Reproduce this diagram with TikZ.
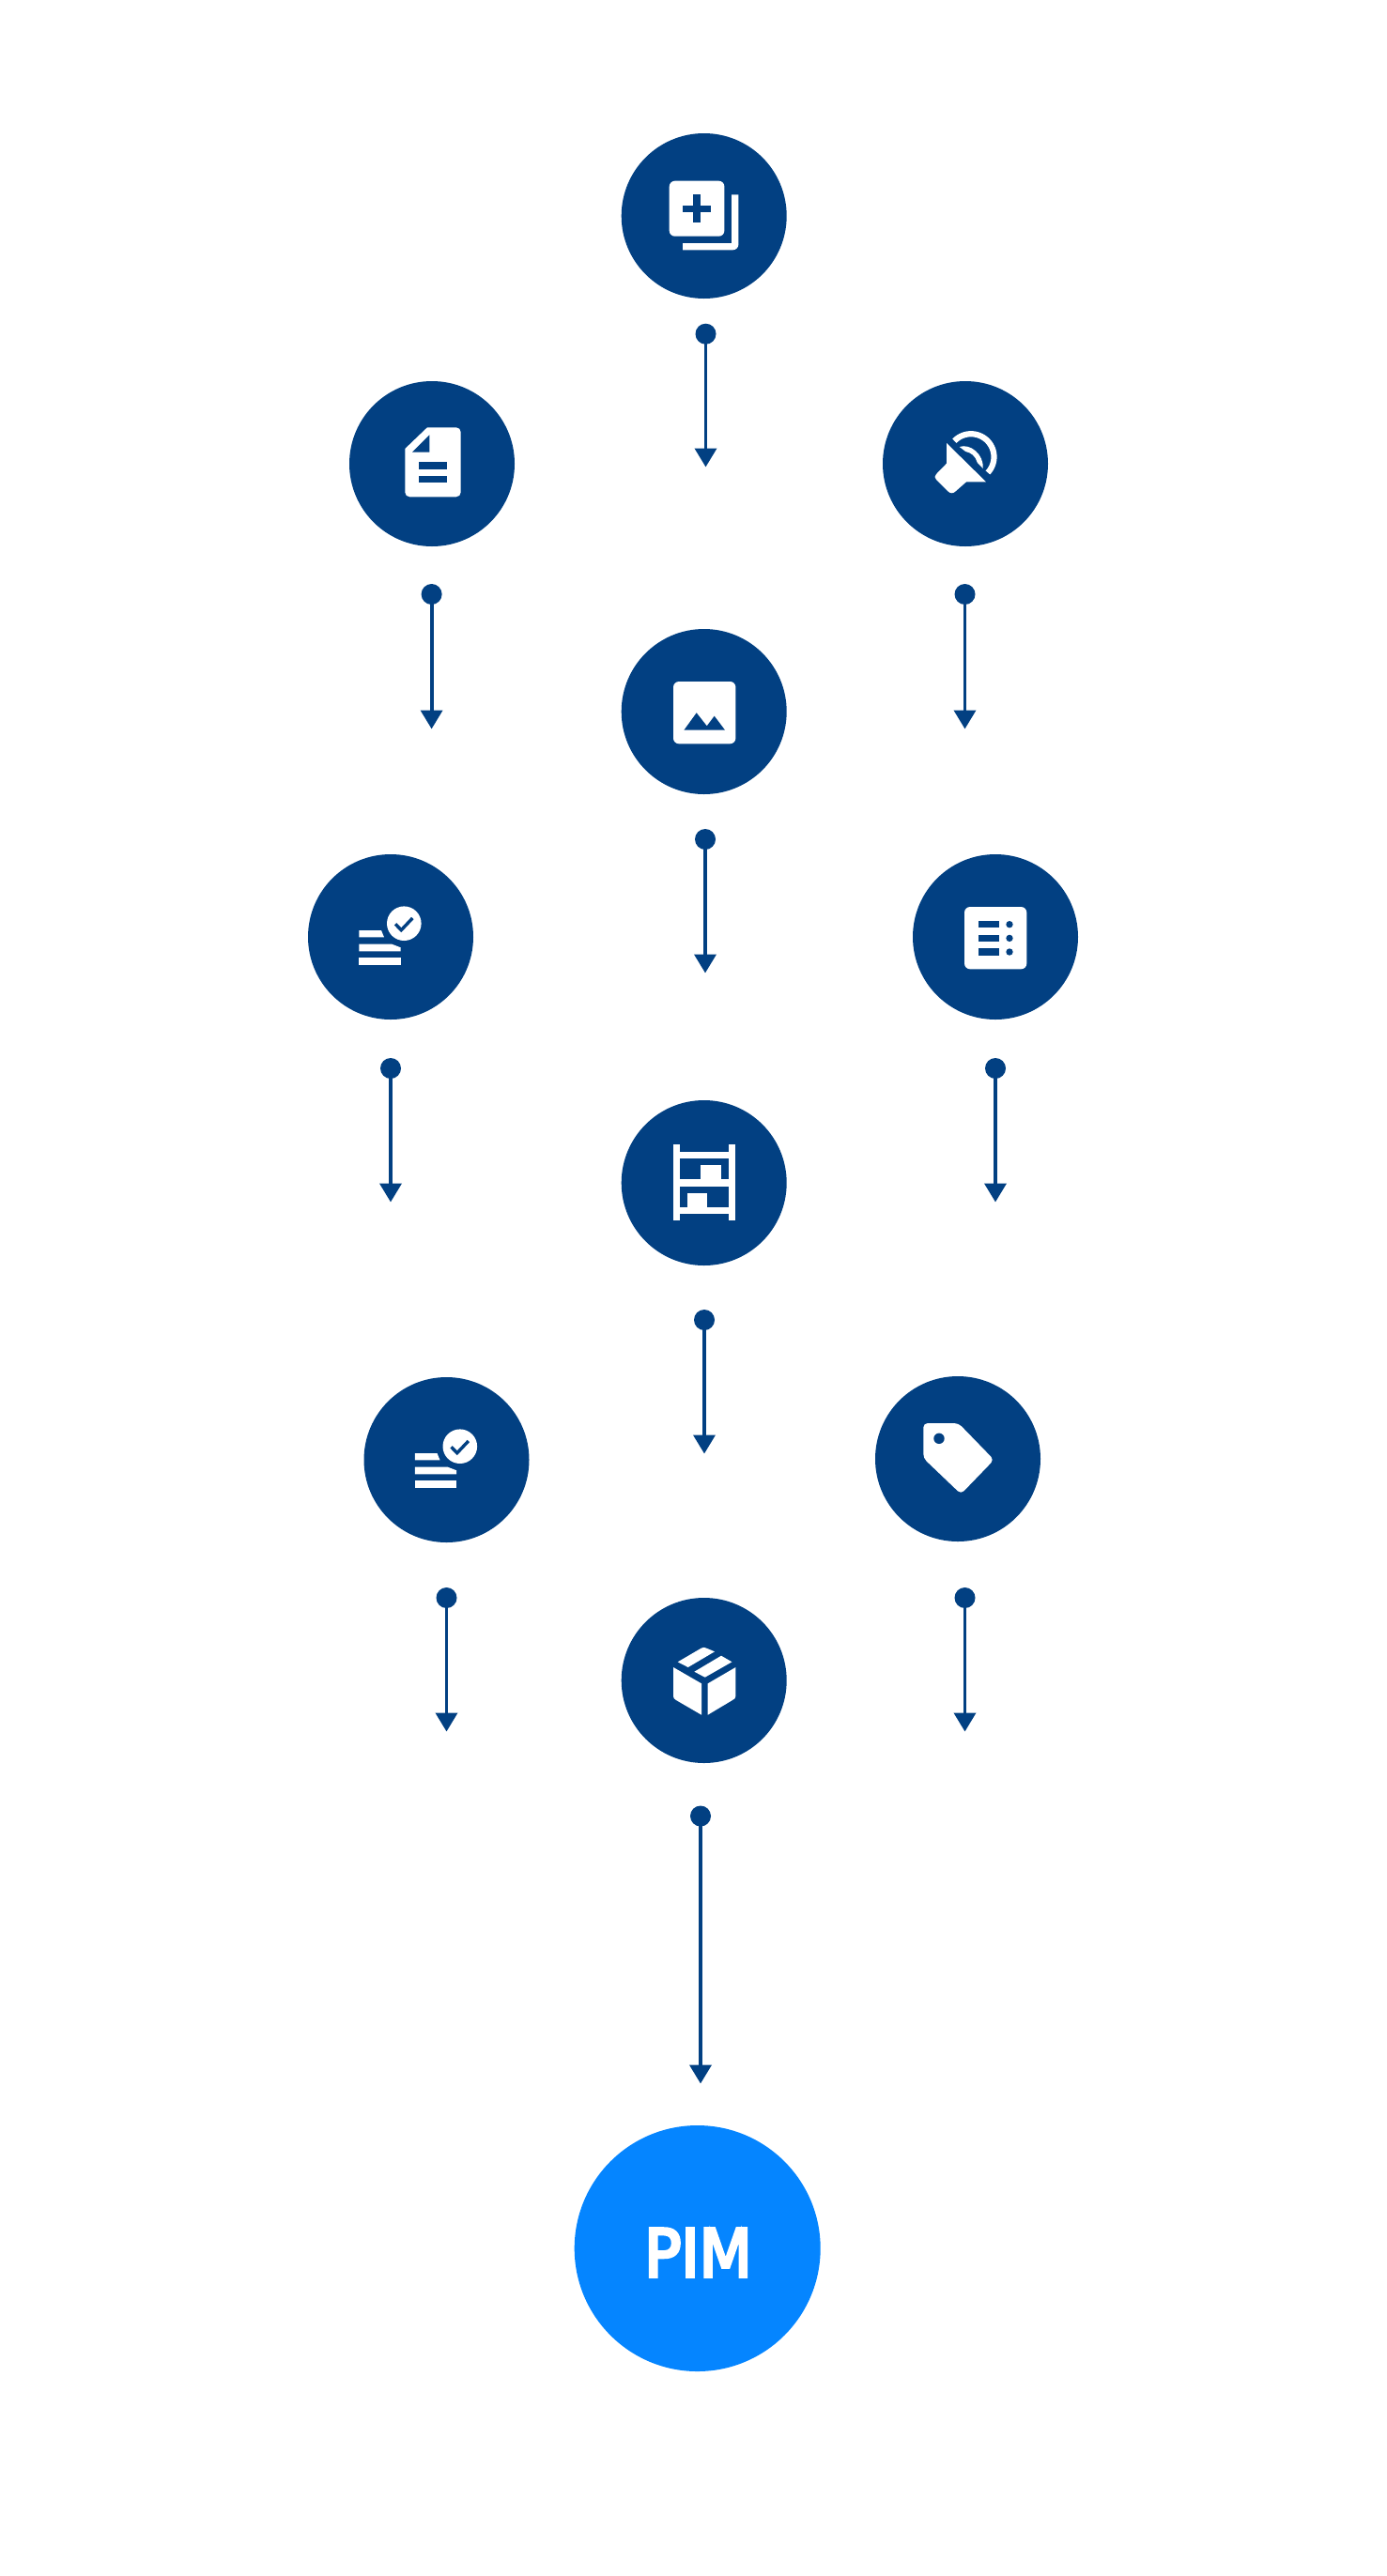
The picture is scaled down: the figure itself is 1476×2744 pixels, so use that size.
\documentclass[tikz,border=0pt]{standalone}
\usepackage{fontspec}
\setmainfont{DejaVu Sans}
\newfontfamily\pimfont[FakeBold=5]{DejaVu Sans}
\usetikzlibrary{arrows.meta}
\definecolor{navy}{HTML}{024082}
\definecolor{pimblue}{HTML}{0585FF}
\tikzset{
  x=1pt,y=-1pt,
  stepnode/.style={circle,fill=navy,minimum size=176pt,inner sep=0pt,outer sep=0pt},
  pimnode/.style={circle,fill=pimblue,minimum size=262pt,inner sep=0pt,outer sep=0pt},
  dotnode/.style={circle,fill=navy,minimum size=22pt,inner sep=0pt,outer sep=0pt},
  flow/.style={draw=navy,line width=3.8pt,-{Triangle[width=23pt,length=20pt,fill=navy]}},
  wh/.style={fill=white,draw=none},
  nv/.style={fill=navy,draw=none},
  icoplus/.pic={
    \fill[wh,rounded corners=6pt] (-37,-37.3) rectangle (21.7,21.7);
    \fill[nv] (-11.3,-22.7) rectangle (-4,7.3);
    \fill[nv] (-22.7,-11.3) rectangle (7.3,-4);
    \fill[wh] (-22.7,29) -- (29.3,29) -- (29.3,-22.7) -- (36.7,-22.7) -- (36.7,30.3) .. controls (36.7,33.6) and (34,36.3) .. (30.7,36.3) -- (-22.7,36.3) -- cycle;
  },
  icodoc/.pic={
    \fill[wh] (-5,-38.7) -- (25.7,-38.7) .. controls (28.5,-38.7) and (30.7,-36.5) .. (30.7,-33.7) -- (30.7,30.3) .. controls (30.7,33.1) and (28.5,35.3) .. (25.7,35.3) -- (-23.7,35.3) .. controls (-26.5,35.3) and (-28.7,33.1) .. (-28.7,30.3) -- (-28.7,-16) -- cycle;
    \fill[nv] (-2.7,-30.7) -- (-2.7,-12.3) -- (-21,-12.3) -- cycle;
    \fill[nv] (-13.7,-1.7) rectangle (15.7,5.7);
    \fill[nv] (-13.7,13) rectangle (15.7,20.3);
  },
  icospeaker/.pic={
    \fill[wh] (-20,-22) -- (22,19.3) -- (1,19.3) -- (-10,29) .. controls (-13,32) and (-16,32) .. (-19,29) -- (-31,17) .. controls (-33,15) and (-33,13) .. (-31,11) -- (-20,-.3) -- cycle;
    \draw[white,line width=6.2pt] plot[smooth,domain=224:403,samples=40] ({6+24.5*cos(\x)},{-7.3+24.5*sin(\x)});
    \fill[wh] (-6.3,-18) .. controls (5,-22) and (20,-10) .. (18.7,5) -- (12.7,-1.3) .. controls (11,-8) and (6,-12) .. (.3,-13) -- cycle;
  },
  icoimage/.pic={
    \fill[wh,rounded corners=6pt] (-32.7,-32) rectangle (33.7,34.3);
    \fill[nv] (-21.3,19.7) -- (-8,1.3) -- (3,15.3) -- (11,4.7) -- (22.3,19.7) -- cycle;
  },
  icocheck/.pic={
    \fill[wh] (-33.7,-7) -- (-10,-7) -- (-7,.3) -- (-33.7,.3) -- cycle;
    \fill[wh] (-33.7,7.7) -- (1.3,7.7) -- (10.7,11.3) -- (10.7,15.3) -- (-33.7,15.3) -- cycle;
    \fill[wh] (-33.7,22.3) rectangle (10.7,30);
    \fill[wh] (14.3,-14.3) circle[radius=18.3pt];
    \draw[navy,line width=3.4pt] (5,-13.7) -- (11.3,-7.3) -- (23.3,-20);
  },
  icolist/.pic={
    \fill[wh,rounded corners=6pt] (-33,-32) rectangle (33.3,34.3);
    \foreach \yy in {-17,-2.3,12.3} {
      \fill[nv] (-18.3,\yy) rectangle (3.7,\yy+7.4);
      \fill[nv] (15,\yy+3.7) circle[radius=3.7pt];
    }
  },
  icoshelf/.pic={
    \fill[wh] (-33,-40.7) rectangle (-25.7,40.3);
    \fill[wh] (26,-40.7) rectangle (33.3,40.3);
    \fill[wh] (-26,-33.3) rectangle (26.5,-26);
    \fill[wh] (-26,-3.7) rectangle (26.5,3.7);
    \fill[wh] (-26,25.7) rectangle (26.5,33);
    \fill[wh] (-3.3,-18.7) rectangle (18.7,-3.5);
    \fill[wh] (-18,11) rectangle (3.7,25.9);
  },
  icotag/.pic={
    \fill[wh,rounded corners=4.5pt] (-36.7,-38) -- (.7,-38) -- (38.5,1) -- (3.3,37.5) -- (-36.7,-.7) -- cycle;
    \fill[nv] (-20,-21.7) circle[radius=5.7pt];
  },
  icobox/.pic={
    \fill[wh] (-32.7,-14) -- (-2.7,3.3) -- (-2.7,36.7) -- (-29.7,21) .. controls (-31.7,20) and (-32.7,18.5) .. (-32.7,16.7) -- cycle;
    \fill[wh] (4,3.3) -- (33.7,-14) -- (33.7,16.7) .. controls (33.7,18.5) and (32.7,20) .. (30.3,21) -- (4,36.7) -- cycle;
    \fill[wh] (-28,-19.7) -- (-3,-34.3) .. controls (-1.5,-35.3) and (.5,-35.3) .. (2,-34.6) -- (11.3,-30.7) -- (-17,-14) -- cycle;
    \fill[wh] (-10.3,-9.3) -- (18.3,-26.3) -- (29.7,-19.7) -- (1,-3.3) -- cycle;
  }
}
\begin{document}
\begin{tikzpicture}
\useasboundingbox (0,0) rectangle (1476,2744);
% step circles
\node[stepnode] (plus) at (749.7,230) {};
\node[stepnode] (doc) at (460,494) {};
\node[stepnode] (speaker) at (1028,494) {};
\node[stepnode] (image) at (749.7,758) {};
\node[stepnode] (checka) at (416,998) {};
\node[stepnode] (list) at (1060,998) {};
\node[stepnode] (shelf) at (749.7,1260) {};
\node[stepnode] (checkb) at (475.5,1555) {};
\node[stepnode] (tag) at (1020,1554) {};
\node[stepnode] (box) at (749.7,1790) {};
\node[pimnode] (pim) at (742.7,2395) {};
\node[anchor=base,text=white,inner sep=0pt,font=\pimfont\fontsize{70}{70}\selectfont] (pimlabel) at (743.5,2425) {\scalebox{0.93}[1]{PIM}};
% icons
\pic at (plus.center) {icoplus};
\pic at (doc.center) {icodoc};
\pic at (speaker.center) {icospeaker};
\pic at (image.center) {icoimage};
\pic at (checka.center) {icocheck};
\pic at (list.center) {icolist};
\pic at (shelf.center) {icoshelf};
\pic at (checkb.center) {icocheck};
\pic at (tag.center) {icotag};
\pic at (box.center) {icobox};
% connectors
\foreach \nm/\xx/\ya/\yb in {
  a/751.5/355.7/497.5, b/459.6/633/776.5, c/1027.5/633/776.5, d/751/894/1036.5,
  e/416/1138/1280.5, f/1060/1138/1280.5, g/750/1406/1548.5, h/475.5/1702/1844.5,
  i/1027.5/1702/1844.5, j/746/1934.5/2219.5} {
  \node[dotnode] (dot\nm) at (\xx,\ya) {};
  \coordinate (tip\nm) at (\xx,\yb);
  \draw[flow] (dot\nm.center) -- (tip\nm);
}
\end{tikzpicture}
\end{document}
